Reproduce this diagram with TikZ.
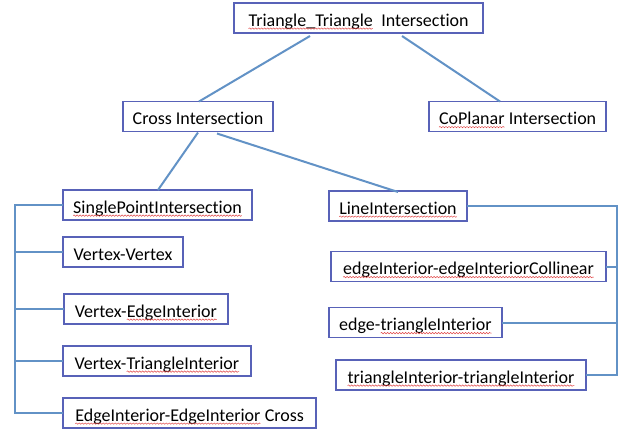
\documentclass[tikz,border=0pt]{standalone}
\usepackage{fontspec}
\setmainfont{Carlito}[Ligatures={NoCommon}]
\usetikzlibrary{calc,decorations.pathmorphing}
\definecolor{boxc}{RGB}{88,98,184}
\definecolor{linec}{RGB}{98,146,198}
\definecolor{sqc}{RGB}{225,70,70}
\newcommand\sqw[1]{\tikz[baseline=(w.base)]{\node[inner sep=0pt,outer sep=0pt,draw=none,text height=,text depth=,minimum width=0pt,minimum height=0pt](w){#1};\draw[sqc,line width=0.5pt,decorate,decoration={snake,amplitude=0.7pt,segment length=3pt}]([yshift=-2.6pt]w.base west)--([yshift=-2.6pt]w.base east);}}
\tikzset{
  box/.style={draw=boxc,line width=1.2pt,fill=white,inner sep=0pt,outer sep=0pt,
    minimum height=30pt,text height=16pt,text depth=0pt,
    font=\fontsize{18}{20}\selectfont},
  conn/.style={draw=linec,line width=2pt}
}
\begin{document}
\begin{tikzpicture}[x=1pt,y=-1pt]
\fill[white] (0,0) rectangle (621,429);
\useasboundingbox (0,0) rectangle (621,429);
% boxes
\node[box,minimum width=249pt] (top) at (358.5,18) {\sqw{Triangle\_Triangle}\ \ Intersection};
\node[box,minimum width=150pt] (cross) at (198,116.5) {Cross Intersection};
\node[box,minimum width=177pt] (coplanar) at (517.5,116.5) {\sqw{CoPlanar} Intersection};
\node[box,minimum width=189pt] (single) at (157.5,205) {\sqw{SinglePointIntersection}};
\node[box,minimum width=138pt] (line) at (398,206) {\sqw{LineIntersection}};
\node[box,minimum width=120pt] (vv) at (123,252) {Vertex-Vertex};
\node[box,minimum width=164pt] (ve) at (146,309) {Vertex-\sqw{EdgeInterior}};
\node[box,minimum width=188pt] (vt) at (157,361) {Vertex-\sqw{TriangleInterior}};
\node[box,minimum width=253pt] (ee) at (189.5,413) {\sqw{EdgeInterior-EdgeInterior} Cross};
\node[box,minimum width=275pt] (col) at (468.5,266.5) {\sqw{edgeInterior-edgeInteriorCollinear}};
\node[box,minimum width=173pt] (et) at (415.5,322.5) {edge-\sqw{triangleInterior}};
\node[box,minimum width=250pt] (tt) at (461,375) {\sqw{triangleInterior-triangleInterior}};
% tree connectors
\draw[conn] ($(top.south west)+(76,3)$) -- ($(cross.north west)+(76,0)$);
\draw[conn] ($(top.south west)+(168,3)$) -- ($(coplanar.north west)+(71,0)$);
\draw[conn] ($(cross.south west)+(75,1)$) -- ($(single.north west)+(95,0)$);
\draw[conn] ($(cross.south west)+(94,2)$) -- ($(line.north west)+(69,1)$);
% left bracket
\coordinate (lx) at (15,0);
\draw[conn] (single.west) -- (single.west -| lx) -- (ee.west -| lx) -- (ee.west);
\foreach \n in {vv,ve,vt} \draw[conn] (\n.west) -- (\n.west -| lx);
% right bracket
\coordinate (rx) at (617,0);
\draw[conn] (line.east) -- (line.east -| rx) -- (tt.east -| rx) -- (tt.east);
\foreach \n in {col,et} \draw[conn] (\n.east) -- (\n.east -| rx);
\end{tikzpicture}
\end{document}
